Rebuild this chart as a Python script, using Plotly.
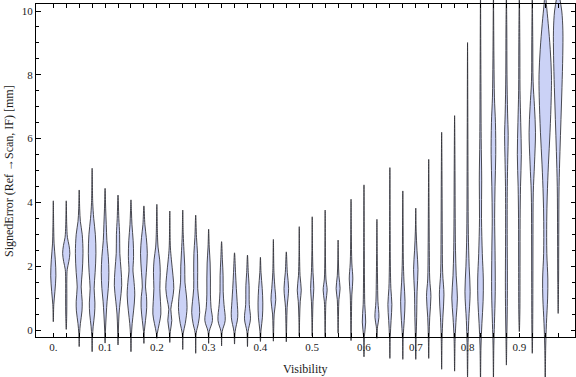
import plotly.graph_objects as go

# ---------------- data ----------------
visibility = [0.0, 0.025, 0.05, 0.075, 0.1, 0.125, 0.15, 0.175, 0.2, 0.225,
              0.25, 0.275, 0.3, 0.325, 0.35, 0.375, 0.4, 0.425, 0.45, 0.475,
              0.5, 0.525, 0.55, 0.575, 0.6, 0.625, 0.65, 0.675, 0.7, 0.725,
              0.75, 0.775, 0.8, 0.825, 0.85, 0.875, 0.9, 0.925, 0.95, 0.975]

err_min = [0.26, 0.02, -0.52, -0.68, -0.41, -0.47, -0.68, -0.42, -0.26, -0.39,
           -0.61, -0.73, -0.42, -0.5, -0.44, -0.52, -0.36, -0.35, -0.37, -0.19,
           -0.19, -0.21, -0.1, -0.33, -0.84, -0.26, -0.89, -0.92, -0.92, -0.89,
           -1.23, -1.29, -1.5, -1.6, -1.6, -1.1, -0.05, -0.73, -1.6, 0.52]

err_max = [4.05, 4.05, 4.39, 5.07, 4.44, 4.23, 4.08, 3.89, 3.94, 3.73,
           3.76, 3.6, 3.16, 2.77, 2.42, 2.35, 2.28, 2.84, 2.45, 3.24,
           3.55, 3.76, 2.82, 4.1, 4.55, 3.47, 5.09, 4.36, 3.82, 5.35,
           6.2, 6.72, 9.01, 10.5, 10.5, 10.5, 10.5, 10.5, 10.6, 10.7]

# interior density knots of each violin: error level and relative density
density_levels = [
    [0.8, 1.2, 1.7, 2.2, 2.7, 3.2],
    [0.5, 1.0, 1.6, 1.9, 2.15, 2.4, 2.65, 2.9, 3.3],
    [-0.1, 0.2, 0.6, 0.9, 1.35, 1.8, 2.4, 3.0, 3.4, 3.8],
    [-0.2, 0.1, 0.5, 0.85, 1.3, 1.8, 2.4, 3.0, 3.5, 4.0],
    [0.0, 0.5, 0.9, 1.3, 1.8, 2.3, 2.8, 3.3, 3.8],
    [0.0, 0.5, 0.9, 1.4, 1.9, 2.4, 3.0, 3.5],
    [-0.2, 0.2, 0.6, 1.1, 1.6, 1.85, 2.3, 2.8, 3.3, 3.7],
    [-0.05, 0.3, 0.7, 1.05, 1.35, 1.8, 2.4, 2.9, 3.3],
    [-0.1, 0.2, 0.5, 0.9, 1.3, 1.8, 2.2, 2.6, 3.0],
    [-0.05, 0.3, 0.65, 0.95, 1.3, 1.7, 2.2, 2.6],
    [-0.1, 0.2, 0.7, 1.1, 1.5, 2.0, 2.5, 3.0],
    [-0.1, 0.2, 0.55, 0.9, 1.3, 1.8, 2.4, 2.9],
    [-0.05, 0.3, 0.7, 1.1, 1.6, 2.1, 2.6],
    [-0.05, 0.3, 0.8, 1.2, 1.7, 2.2],
    [-0.05, 0.4, 0.9, 1.3, 1.8],
    [-0.05, 0.35, 0.8, 1.4, 1.8],
    [0.0, 0.4, 0.85, 1.3, 1.8],
    [0.1, 0.5, 0.95, 1.3, 1.8],
    [0.2, 0.7, 1.3, 1.8],
    [0.4, 0.9, 1.25, 1.7, 2.3],
    [0.4, 0.9, 1.3, 1.8, 2.5],
    [0.5, 0.9, 1.25, 1.6, 2.3],
    [0.5, 0.95, 1.3, 1.7, 2.2],
    [0.4, 1.1, 1.6, 2.1, 3.0],
    [-0.2, 0.25, 0.8, 1.5, 2.5],
    [0.1, 0.4, 0.9, 1.6, 2.4],
    [-0.2, 0.3, 0.8, 1.3, 2.0, 3.0],
    [-0.2, 0.3, 0.9, 1.5, 2.2, 3.2],
    [-0.2, 0.4, 1.2, 1.9, 2.5, 3.1],
    [-0.2, 0.4, 1.05, 1.6, 2.5, 3.5],
    [-0.3, 0.4, 1.1, 1.8, 3.0, 4.5],
    [-0.3, 0.4, 1.0, 1.7, 2.5, 3.5, 5.0],
    [-0.4, 0.3, 1.2, 2.0, 3.0, 4.5, 6.5],
    [-0.5, 0.2, 0.9, 1.6, 2.4, 3.5, 4.7, 6.0, 8.0],
    [-0.5, 0.2, 1.2, 2.5, 3.5, 4.5, 5.5, 6.5, 7.3, 8.5],
    [-0.3, 0.5, 1.5, 3.0, 4.5, 5.4, 6.1, 6.8, 8.0, 9.5],
    [0.5, 2.0, 3.5, 4.5, 5.5, 6.5, 7.5, 9.0],
    [0.0, 1.5, 3.0, 4.3, 5.2, 6.2, 7.0, 7.8, 9.0],
    [-0.5, 0.2, 1.0, 1.6, 2.4, 3.4, 4.2, 5.2, 6.2, 7.3, 8.0, 8.8, 9.6, 10.2],
    [1.5, 3.0, 4.5, 5.6, 6.6, 7.6, 8.6, 9.4, 10.0, 10.4],
]

density_values = [
    [0.5, 1.6, 2.6, 2.0, 0.8, 0.4],
    [0.5, 0.6, 0.6, 1.0, 2.6, 3.6, 2.8, 1.2, 0.5],
    [0.4, 1.2, 2.8, 3.0, 2.0, 3.0, 3.8, 3.0, 1.2, 0.5],
    [0.4, 1.0, 2.4, 2.8, 2.0, 3.0, 3.8, 3.2, 1.6, 0.6],
    [0.4, 1.2, 2.0, 3.2, 3.8, 3.2, 1.8, 1.2, 0.6],
    [0.4, 1.0, 2.2, 3.7, 3.0, 1.8, 1.6, 0.8],
    [0.4, 1.2, 2.6, 3.8, 2.8, 2.0, 2.6, 2.2, 1.0, 0.5],
    [0.4, 1.6, 2.8, 2.6, 1.6, 2.4, 3.4, 2.4, 1.0],
    [0.5, 2.4, 4.0, 3.6, 3.0, 3.4, 2.8, 1.2, 0.6],
    [0.5, 2.0, 1.0, 2.6, 4.0, 3.2, 1.6, 0.6],
    [0.5, 2.5, 4.3, 3.6, 2.2, 2.0, 1.2, 0.5],
    [0.5, 2.6, 4.0, 3.2, 2.0, 2.0, 1.8, 0.8],
    [0.6, 3.8, 2.4, 1.8, 1.8, 1.5, 0.6],
    [0.6, 3.6, 2.4, 1.6, 1.5, 0.8],
    [0.6, 3.2, 2.6, 1.8, 1.0],
    [0.6, 3.0, 1.8, 1.6, 0.8],
    [0.6, 2.0, 2.4, 1.8, 0.6],
    [0.4, 0.8, 2.4, 1.6, 0.6],
    [0.4, 0.8, 2.3, 1.0],
    [0.4, 1.0, 2.0, 0.8, 0.3],
    [0.4, 0.8, 1.6, 0.8, 0.3],
    [0.4, 0.8, 2.0, 0.8, 0.3],
    [0.4, 0.8, 2.0, 0.8, 0.3],
    [0.4, 0.8, 1.8, 0.8, 0.3],
    [0.4, 1.7, 0.8, 0.5, 0.3],
    [0.6, 2.0, 1.0, 0.6, 0.3],
    [0.4, 1.2, 2.0, 1.0, 0.5, 0.3],
    [0.4, 1.4, 2.2, 1.2, 0.5, 0.3],
    [0.4, 0.9, 1.3, 2.2, 1.2, 0.4],
    [0.4, 1.0, 2.2, 1.0, 0.6, 0.4],
    [0.4, 1.2, 2.3, 1.0, 0.6, 0.4],
    [0.5, 1.6, 2.8, 1.6, 0.9, 0.6, 0.4],
    [0.5, 1.2, 2.6, 1.6, 0.8, 0.5, 0.3],
    [0.5, 1.4, 2.6, 2.8, 1.8, 1.0, 1.2, 0.7, 0.4],
    [0.4, 1.0, 1.8, 1.6, 1.2, 1.6, 2.3, 2.0, 1.0, 0.5],
    [0.4, 0.8, 1.0, 0.8, 0.9, 1.4, 1.8, 1.2, 0.6, 0.4],
    [0.5, 0.7, 0.8, 1.2, 2.0, 1.4, 0.7, 0.5],
    [0.4, 0.6, 0.7, 1.0, 2.2, 3.2, 2.2, 0.8, 0.5],
    [0.5, 1.2, 2.4, 2.6, 1.6, 1.5, 2.0, 3.2, 4.8, 6.0, 6.2, 5.0, 3.0, 1.2],
    [0.4, 0.6, 0.9, 1.8, 2.8, 3.8, 4.6, 4.7, 3.6, 1.6],
]

x_tick_values = [0.0, 0.1, 0.2, 0.3, 0.4, 0.5, 0.6, 0.7, 0.8, 0.9]
x_tick_labels = ["0.", "0.1", "0.2", "0.3", "0.4", "0.5", "0.6", "0.7", "0.8", "0.9"]
y_tick_values = [0, 2, 4, 6, 8, 10]
y_tick_labels = ["0", "2", "4", "6", "8", "10"]

# ---------------- layout geometry / style ----------------
W, H = 576, 377
FRAME_L, FRAME_R, FRAME_T, FRAME_B = 36, 575, 4, 337     # frame in pixels
XR = (-0.0334, 1.0075)                                   # frame x range
YR = (-0.219, 10.22)                                     # frame y range
px_per_x = (FRAME_R - FRAME_L) / (XR[1] - XR[0])
px_per_y = (FRAME_B - FRAME_T) / (YR[1] - YR[0])
full_x = (XR[0] - FRAME_L / px_per_x, XR[0] + (W - FRAME_L) / px_per_x)
full_y = (YR[0] - (H - FRAME_B) / px_per_y, YR[0] + FRAME_B / px_per_y)
WIDTH_SCALE = 1.0 / px_per_x          # one density unit = one pixel half-width

FILL = "rgb(203,210,246)"
EDGE = "rgba(45,45,50,0.85)"
FONT = "Liberation Serif"

fig = go.Figure()
for i, xv in enumerate(visibility):
    lev = [err_min[i]] + density_levels[i] + [err_max[i]]
    wid = [0.0] + density_values[i] + [0.0]
    right_x = [xv + w * WIDTH_SCALE for w in wid]
    left_x = [xv - w * WIDTH_SCALE for w in reversed(wid[1:-1])]
    xs = right_x + left_x + [xv]
    ys = lev + list(reversed(lev[1:-1])) + [lev[0]]
    fig.add_trace(go.Scatter(
        x=xs, y=ys, mode="lines", fill="toself", fillcolor=FILL,
        line=dict(color=EDGE, width=1, shape="spline", smoothing=1),
        hoverinfo="skip", showlegend=False))

# invisible trace for the framed axes subplot
fig.add_trace(go.Scatter(x=[None], y=[None], xaxis="x2", yaxis="y2",
                         showlegend=False, hoverinfo="skip"))

all_x_ticks = visibility
all_x_text = []
for v in visibility:
    lab = ""
    for tv, tl in zip(x_tick_values, x_tick_labels):
        if abs(v - tv) < 1e-9:
            lab = tl
    all_x_text.append(lab)

tickfont = dict(family=FONT, size=11, color="#1a1a1a")

fig.update_layout(
    width=W, height=H, margin=dict(l=0, r=0, t=0, b=0),
    paper_bgcolor="white", plot_bgcolor="rgba(0,0,0,0)",
    showlegend=False,
    xaxis=dict(domain=[0, 1], range=list(full_x), visible=False, fixedrange=True),
    yaxis=dict(domain=[0, 1], range=list(full_y), visible=False, fixedrange=True),
    xaxis2=dict(domain=[FRAME_L / W, FRAME_R / W], range=list(XR), anchor="y2",
                showline=True, linecolor="black", linewidth=1, mirror="ticks",
                ticks="inside", ticklen=4, tickcolor="black", tickwidth=1,
                tickmode="array", tickvals=all_x_ticks, ticktext=all_x_text,
                showgrid=False, zeroline=False, tickfont=tickfont, fixedrange=True),
    yaxis2=dict(domain=[1 - FRAME_B / H, 1 - FRAME_T / H], range=list(YR), anchor="x2",
                showline=True, linecolor="black", linewidth=1, mirror="ticks",
                ticks="inside", ticklen=4.5, tickcolor="black", tickwidth=1,
                tickmode="array", tickvals=y_tick_values, ticktext=y_tick_labels,
                minor=dict(ticks="inside", dtick=0.5, tick0=0, ticklen=3,
                           tickcolor="black", tickwidth=1, showgrid=False),
                showgrid=False, zeroline=False, tickfont=tickfont, fixedrange=True),
    annotations=[
        dict(text="Visibility", x=305 / W, y=1 - 369 / H, xref="paper", yref="paper",
             showarrow=False, font=dict(family=FONT, size=12, color="#1a1a1a"),
             xanchor="center", yanchor="middle"),
        dict(text="SignedError (Ref →Scan, IF) [mm]", x=9 / W, y=1 - 171 / H,
             xref="paper", yref="paper", showarrow=False, textangle=-90,
             font=dict(family=FONT, size=12, color="#1a1a1a"),
             xanchor="center", yanchor="middle"),
    ],
)

fig.write_html(
    "out.html",
    config={"displayModeBar": False},
    post_script="document.body.style.margin='0';document.body.style.padding='0';"
                "document.documentElement.style.overflow='hidden';",
)
